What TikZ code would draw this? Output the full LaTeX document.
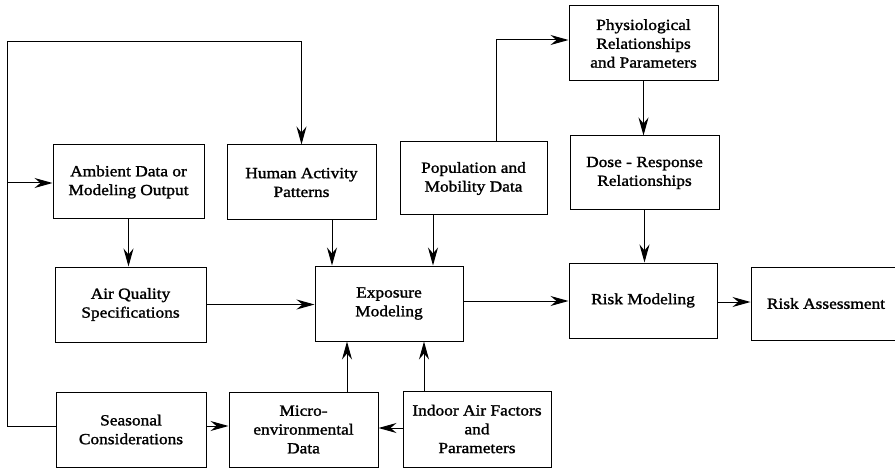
\documentclass[tikz,border=0pt]{standalone}
\usepackage{fontspec}
\setmainfont{Liberation Serif}[FakeStretch=1.12,FakeBold=1.5]
\usetikzlibrary{arrows.meta}
\begin{document}
\begin{tikzpicture}[x=1pt,y=-1pt,
  box/.style={draw, line width=1pt, inner sep=0pt, align=center,
    font=\fontsize{15.5}{18.8}\selectfont},
  arr/.style={line width=1pt, -{Stealth[length=18pt,width=10pt,inset=6pt]}},
  ln/.style={line width=1pt}]
\useasboundingbox (0,0) rectangle (895,468);
% nodes
\node[box, minimum width=151pt, minimum height=74pt] (amb) at (128.5,182) {Ambient Data or\\Modeling Output};
\node[box, minimum width=149pt, minimum height=75pt] (hum) at (301.5,182.5) {Human Activity\\Patterns};
\node[box, minimum width=147pt, minimum height=73pt] (pop) at (473.5,178.5) {Population and\\Mobility Data};
\node[box, minimum width=149pt, minimum height=75pt] (phys) at (643.5,43.5) {Physiological\\Relationships\\and Parameters};
\node[box, minimum width=149pt, minimum height=74pt] (dose) at (644.5,173) {Dose - Response\\Relationships};
\node[box, minimum width=151pt, minimum height=75pt] (airq) at (130.5,304.5) {Air Quality\\Specifications};
\node[box, minimum width=148pt, minimum height=75pt] (exp) at (389,303.5) {Exposure\\Modeling};
\node[box, minimum width=148pt, minimum height=75pt] (risk) at (643,300.5) {Risk Modeling};
\node[box, minimum width=150pt, minimum height=73pt] (ra) at (826,303.5) {Risk Assessment};
\node[box, minimum width=150pt, minimum height=75pt] (seas) at (131,429.5) {Seasonal\\Considerations};
\node[box, minimum width=149pt, minimum height=75pt] (micro) at (303.5,429.5) {Micro-\\environmental\\Data};
\node[box, minimum width=148pt, minimum height=76pt] (indoor) at (477,429) {Indoor Air Factors\\and\\Parameters};
% helper coordinates
\coordinate (c7) at (7,0);
\coordinate (c332) at (332,0);
\coordinate (c433) at (433,0);
\coordinate (c496) at (496,0);
\coordinate (c347) at (347,0);
\coordinate (c424) at (424,0);
\coordinate (r42) at (0,42);
\coordinate (r40) at (0,40);
\coordinate (r183) at (0,183);
\coordinate (r301) at (0,301);
\coordinate (r302) at (0,302);
\coordinate (r426) at (0,426);
\coordinate (r428) at (0,428);
% left loop from Seasonal Considerations
\draw[ln] (seas.west |- r426) -- (c7 |- r426) -- (c7 |- r42) -- (hum.north |- r42);
\draw[arr] (hum.north |- r42) -- (hum.north);
\draw[arr] (c7 |- r183) -- (amb.west |- r183);
% vertical connectors
\draw[arr] (amb.south) -- (amb.south |- airq.north);
\draw[arr] (hum.south -| c332) -- (exp.north -| c332);
\draw[arr] (pop.south -| c433) -- (exp.north -| c433);
\draw[ln] (pop.north -| c496) -- (c496 |- r40);
\draw[arr] (c496 |- r40) -- (phys.west |- r40);
\draw[arr] (phys.south) -- (phys.south |- dose.north);
\draw[arr] (dose.south) -- (dose.south |- risk.north);
\draw[arr] (micro.north -| c347) -- (exp.south -| c347);
\draw[arr] (indoor.north -| c424) -- (exp.south -| c424);
% horizontal connectors
\draw[arr] (airq.east) -- (airq.east -| exp.west);
\draw[arr] (exp.east |- r301) -- (risk.west |- r301);
\draw[arr] (risk.east |- r302) -- (ra.west |- r302);
\draw[arr] (seas.east |- r426) -- (micro.west |- r426);
\draw[arr] (indoor.west |- r428) -- (micro.east |- r428);
\end{tikzpicture}
\end{document}
